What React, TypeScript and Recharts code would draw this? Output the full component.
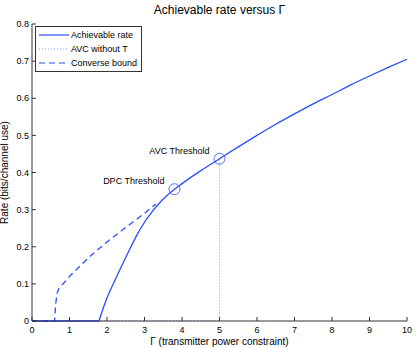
import { Label, Line, LineChart, ReferenceDot, XAxis, YAxis } from 'recharts';

const BLUE = '#2a4cff';
const font = 'Liberation Sans, Arial, Helvetica, sans-serif';

const achievableX = [0, 1.78, 1.8, 1.9, 2.0, 2.2, 2.4, 2.6, 2.8, 3.0, 3.2, 3.4, 3.6, 3.8, 4.0, 4.5, 5.0, 5.5, 6.0, 6.5, 7.0, 7.5, 8.0, 8.5, 9.0, 9.5, 10];
const achievableY = [0, 0, 0.005, 0.035, 0.062, 0.107, 0.15, 0.192, 0.232, 0.266, 0.294, 0.318, 0.338, 0.355, 0.37, 0.405, 0.437, 0.469, 0.5, 0.53, 0.558, 0.585, 0.61, 0.636, 0.66, 0.683, 0.705];

const avcX = [0, 5, 5];
const avcY = [0, 0, 0.437];

const converseX = [0, 0.6, 0.63, 0.67, 0.72, 1.0, 1.5, 2.0, 2.5, 3.0, 3.3];
const converseY = [0, 0, 0.045, 0.075, 0.088, 0.12, 0.17, 0.213, 0.252, 0.29, 0.315];

const thresholds = [
  { name: 'DPC Threshold', x: 3.8, y: 0.355 },
  { name: 'AVC Threshold', x: 5, y: 0.437 },
];

const xTicks = [0, 1, 2, 3, 4, 5, 6, 7, 8, 9, 10];
const yTicks = [0, 0.1, 0.2, 0.3, 0.4, 0.5, 0.6, 0.7, 0.8];

const zip = (xs: number[], ys: number[]) => xs.map((x, i) => ({ x, y: ys[i] }));

const legendItems = [
  { label: 'Achievable rate', dash: undefined as string | undefined, opacity: 1 },
  { label: 'AVC without T', dash: '1 2', opacity: 0.6 },
  { label: 'Converse bound', dash: '6 4', opacity: 1 },
];

function LegendBox() {
  return (
    <div
      style={{
        position: 'absolute',
        left: 35,
        top: 26,
        background: '#fff',
        border: '1px solid #333',
        padding: '1px 4px 1px 3px',
        fontFamily: font,
        fontSize: 9,
        lineHeight: '14px',
        color: '#000',
        whiteSpace: 'nowrap',
      }}
    >
      {legendItems.map((it) => (
        <div key={it.label} style={{ display: 'flex', alignItems: 'center' }}>
          <svg width={30} height={6} style={{ marginRight: 2 }}>
            <line
              x1={0}
              y1={3}
              x2={30}
              y2={3}
              stroke={BLUE}
              strokeOpacity={it.opacity}
              strokeWidth={1.2}
              strokeDasharray={it.dash}
            />
          </svg>
          {it.label}
        </div>
      ))}
    </div>
  );
}

const tickStyle = { fill: '#000', fontSize: 9, fontFamily: font };

export default function App() {
  return (
    <div style={{ position: 'absolute', left: 0, top: 0, width: 415, height: 348, background: '#fff' }}>
      <div
        style={{
          position: 'absolute',
          top: 3,
          left: 32,
          width: 375,
          textAlign: 'center',
          fontFamily: font,
          fontSize: 12,
          color: '#000',
        }}
      >
        Achievable rate versus Γ
      </div>
      <LineChart width={415} height={348} margin={{ top: 24, right: 8, bottom: 0, left: 0 }}>
        <XAxis
          type="number"
          dataKey="x"
          domain={[0, 10]}
          ticks={xTicks}
          tick={tickStyle}
          tickSize={-4}
          tickMargin={10}
          stroke="#333"
          height={27}
          interval={0}
        >
          <Label
            value="Γ (transmitter power constraint)"
            position="insideBottom"
            offset={3}
            style={{ fontSize: 10, fontFamily: font, fill: '#000' }}
          />
        </XAxis>
        <XAxis
          xAxisId="top"
          orientation="top"
          type="number"
          domain={[0, 10]}
          ticks={xTicks}
          tick={false}
          tickSize={-4}
          stroke="#333"
          height={0}
        />
        <YAxis
          type="number"
          domain={[0, 0.8]}
          ticks={yTicks}
          tick={tickStyle}
          tickSize={-4}
          tickMargin={7}
          stroke="#333"
          width={32}
          interval={0}
        >
          <Label
            value="Rate (bits/channel use)"
            angle={-90}
            position="insideLeft"
            offset={4}
            style={{ fontSize: 10, fontFamily: font, fill: '#000', textAnchor: 'middle' }}
          />
        </YAxis>
        <YAxis
          yAxisId="right"
          orientation="right"
          type="number"
          domain={[0, 0.8]}
          ticks={yTicks}
          tick={false}
          tickSize={-4}
          stroke="#333"
          width={0}
        />
        <Line
          name="AVC without T"
          data={zip(avcX, avcY)}
          dataKey="y"
          stroke={BLUE}
          strokeOpacity={0.6}
          strokeWidth={1}
          strokeDasharray="1 2"
          dot={false}
          isAnimationActive={false}
        />
        <Line
          name="Achievable rate"
          type="monotone"
          data={zip(achievableX, achievableY)}
          dataKey="y"
          stroke={BLUE}
          strokeWidth={1.3}
          dot={false}
          isAnimationActive={false}
        />
        <Line
          name="Converse bound"
          data={zip(converseX, converseY)}
          dataKey="y"
          stroke={BLUE}
          strokeWidth={1.3}
          strokeDasharray="6 4"
          dot={false}
          isAnimationActive={false}
        />
        {thresholds.map((t) => (
          <ReferenceDot
            key={t.name}
            x={t.x}
            y={t.y}
            r={5.5}
            fill="none"
            stroke={BLUE}
            strokeWidth={0.8}
            label={{
              content: ({ viewBox }: any) => (
                <text
                  x={viewBox.x + viewBox.width / 2 - 10}
                  y={viewBox.y + viewBox.height / 2 - 5}
                  textAnchor="end"
                  fontSize={9}
                  fontFamily={font}
                  fill="#000"
                >
                  {t.name}
                </text>
              ),
            }}
          />
        ))}
      </LineChart>
      <LegendBox />
    </div>
  );
}
